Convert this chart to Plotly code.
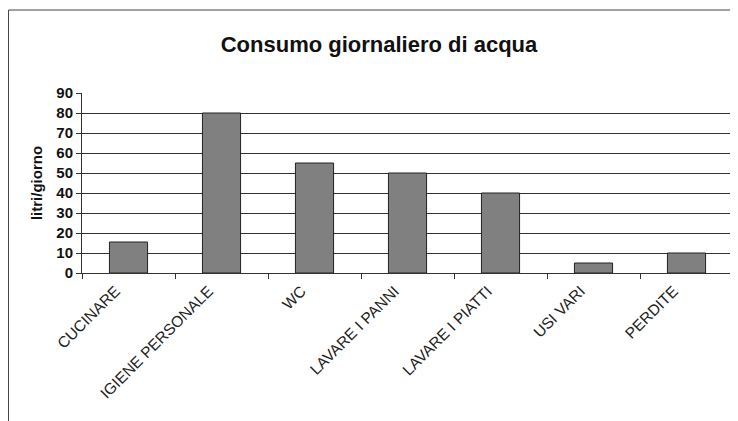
import plotly.graph_objects as go

categories = ["CUCINARE", "IGIENE PERSONALE", "WC", "LAVARE I PANNI",
              "LAVARE I PIATTI", "USI VARI", "PERDITE"]
values = [15.5, 80, 55, 50, 40, 5, 10]
y_ticks = [0, 10, 20, 30, 40, 50, 60, 70, 80, 90]

# page has an 8px body margin; figure coordinates = page coordinates - 8
OFF = 8
W, H = 738 - OFF, 421 - OFF
L, T = 82 - OFF, 93 - OFF
R = W - (733 - OFF)
B = H - (273 - OFF)
pw = W - L - R
ph = H - T - B

fig = go.Figure()
fig.add_trace(go.Bar(
    x=categories, y=values,
    marker=dict(color="#808080", line=dict(color="#222222", width=1)),
    width=0.41,
))

fig.update_layout(
    width=W, height=H,
    margin=dict(l=L, r=R, t=T, b=B),
    paper_bgcolor="white", plot_bgcolor="white",
    showlegend=False,
    font=dict(family="Liberation Sans, Arial, sans-serif", color="#111111"),
    title=dict(text="<b>Consumo giornaliero di acqua</b>",
               x=(379 - OFF) / W, xanchor="center",
               y=1 - (44 - OFF) / H, yanchor="middle",
               font=dict(size=22, color="#111111")),
    bargap=0.59,
)

fig.update_xaxes(
    type="category",
    tickangle=-45,
    tickfont=dict(size=15.5, color="#222222"),
    showline=True, linecolor="#333333", linewidth=1,
    ticks="outside", ticklen=5, tickcolor="#333333",
    tickson="boundaries",
    showgrid=False,
    ticklabelshift=-13,
    ticklabelstandoff=2,
)

fig.update_yaxes(
    range=[0, 90],
    tickvals=y_ticks,
    tickfont=dict(size=15, color="#111111", weight="bold"),
    showline=True, linecolor="#333333", linewidth=1,
    ticks="outside", ticklen=5, tickcolor="#333333",
    showgrid=True, gridcolor="#333333", gridwidth=1,
    zeroline=False,
    title=dict(text="<b>litri/giorno</b>", font=dict(size=15, color="#111111"),
               standoff=10),
)

# outer border (left edge placed at the page's leftmost drawable column)
fig.add_shape(
    type="rect", xref="paper", yref="paper",
    x0=(0.5 - L) / pw, x1=(745 - OFF - L) / pw,
    y0=(H - B - 430) / ph, y1=(H - B - (10 - OFF)) / ph,
    line=dict(color="#444444", width=1), fillcolor="rgba(0,0,0,0)",
    layer="below",
)

fig.write_html("out.html")
